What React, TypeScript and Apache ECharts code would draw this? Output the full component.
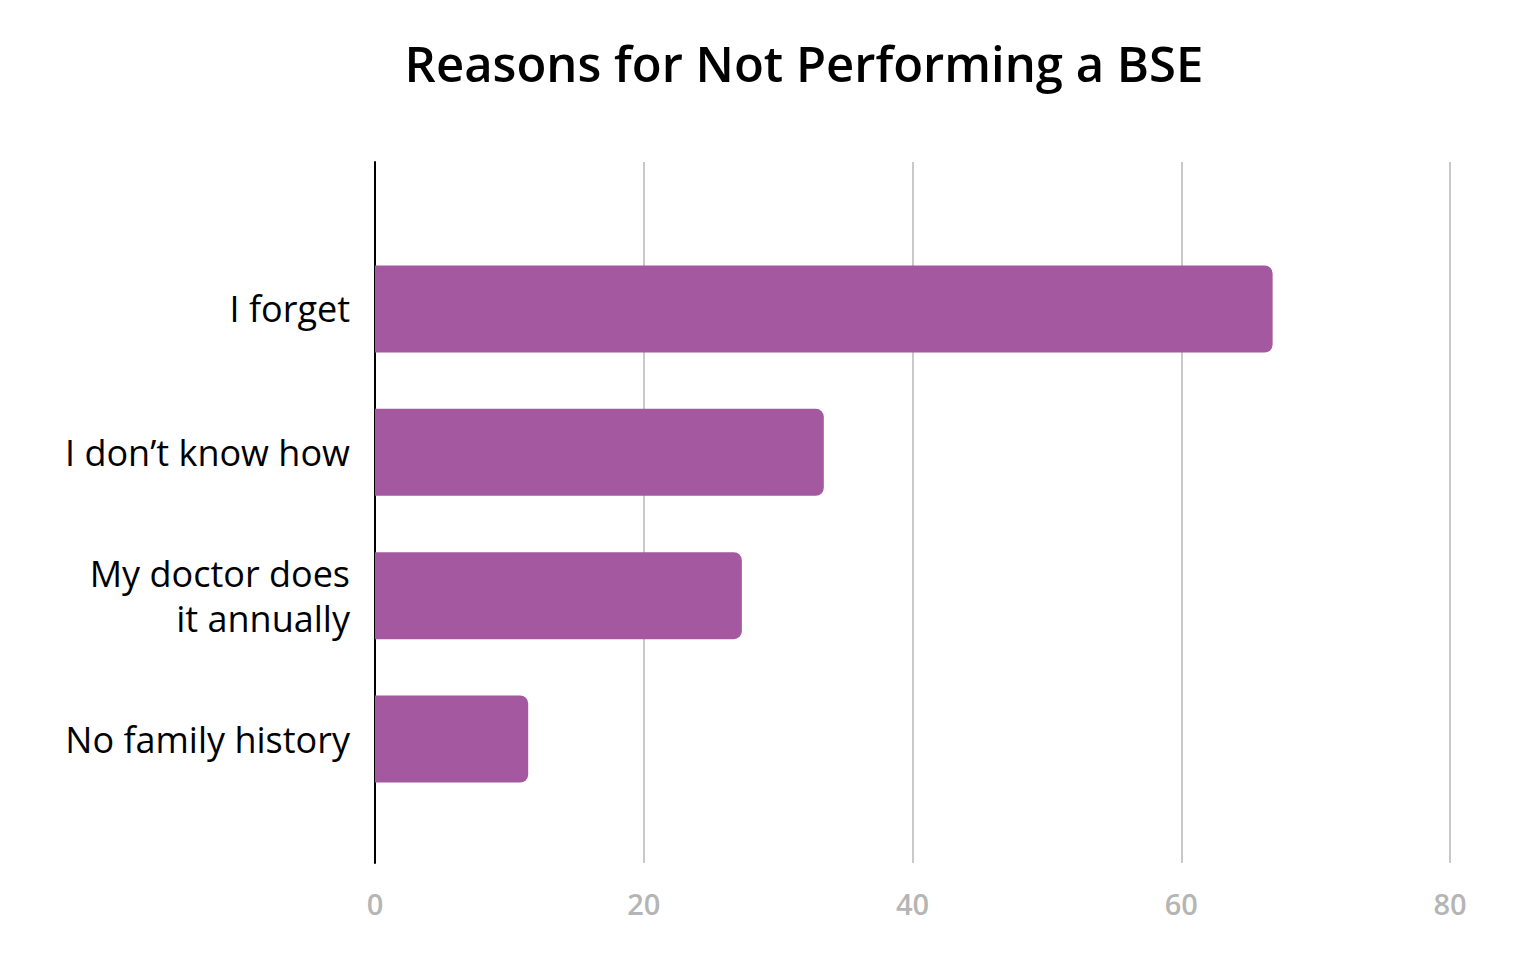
import React, { useEffect, useRef } from "react";
import * as echarts from "echarts";

const titleText = "Reasons for Not Performing a BSE";
const categories = ["I forget", "I don’t know how", "My doctor does\nit annually", "No family history"];
const values = [66.8, 33.4, 27.3, 11.4];
const xTicks = [0, 20, 40, 60, 80];

const FONT = "'Open Sans', sans-serif";

export default function App() {
  const ref = useRef<HTMLDivElement>(null);
  useEffect(() => {
    if (!ref.current) return;
    const chart = echarts.init(ref.current, null, { renderer: "svg" });
    const xMin = xTicks[0];
    const xMax = xTicks[xTicks.length - 1];
    const interval = xTicks[1] - xTicks[0];
    chart.setOption({
      animation: false,
      backgroundColor: "#ffffff",
      graphic: [
        {
          type: "text",
          x: 796,
          y: 55,
          style: {
            text: titleText,
            fontFamily: FONT,
            fontSize: 49,
            fontWeight: 600,
            fill: "#000000",
            textAlign: "center",
            textVerticalAlign: "middle",
          },
        },
      ],
      grid: [
        { left: 367, right: 80, top: 154, bottom: 109 },
        { left: 367, right: 80, top: 229.3, bottom: 161.3 },
      ],
      xAxis: [
        {
          gridIndex: 0,
          type: "value",
          min: xMin,
          max: xMax,
          interval,
          axisLine: { show: false },
          axisTick: { show: false },
          splitLine: { show: true, lineStyle: { color: "#bcbcbc", width: 1.6 } },
          axisLabel: {
            margin: 26,
            fontFamily: FONT,
            fontSize: 29,
            fontWeight: 600,
            color: "#b5b5b5",
          },
        },
        {
          gridIndex: 1,
          type: "value",
          min: xMin,
          max: xMax,
          interval,
          show: false,
        },
      ],
      yAxis: [
        {
          gridIndex: 0,
          type: "category",
          data: categories,
          axisLine: { show: true, onZero: false, lineStyle: { color: "#000000", width: 2 } },
          axisTick: { show: false },
          axisLabel: { show: false },
          splitLine: { show: false },
        },
        {
          gridIndex: 1,
          type: "category",
          data: categories,
          inverse: true,
          axisLine: { show: false },
          axisTick: { show: false },
          splitLine: { show: false },
          axisLabel: {
            margin: 25,
            fontFamily: FONT,
            fontSize: 36,
            lineHeight: 45,
            color: "#000000",
            align: "right",
          },
        },
      ],
      series: [
        {
          type: "bar",
          xAxisIndex: 1,
          yAxisIndex: 1,
          data: values,
          barWidth: 87,
          itemStyle: { color: "#a458a0", borderRadius: [0, 8, 8, 0] },
        },
      ],
    });
    return () => chart.dispose();
  }, []);
  return <div ref={ref} style={{ width: 1522, height: 964 }} />;
}
